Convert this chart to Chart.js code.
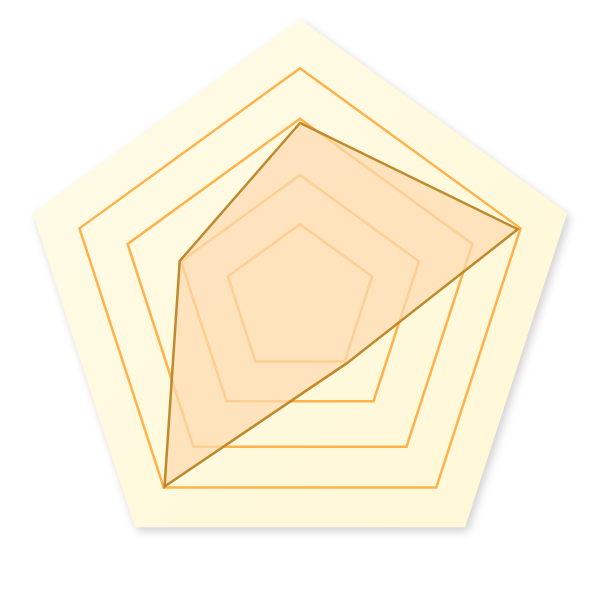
<!DOCTYPE html>
<html lang="en">
<head>
  <meta charset="UTF-8">
  <title>Radar</title>
  <script src="https://cdn.jsdelivr.net/npm/chart.js"></script>
  <style>
    html, body { margin: 0; padding: 0; background: #fff; }
    #wrap { width: 600px; height: 600px; }
  </style>
</head>
<body>
  <div id="wrap"><canvas id="radarChart" width="600" height="600"></canvas></div>
  <script>
    // data
    const categories = ['A', 'B', 'C', 'D', 'E'];
    const seriesValues = [63, 81.5, 28, 82, 45];
    const tickValues = [0, 27, 44.5, 64.5, 82.5];
    const scaleMin = 0;
    const scaleMax = 100;

    // yellow pentagon behind the grid, with a soft shadow
    const backPlate = {
      id: 'backPlate',
      beforeDraw(chart) {
        const scale = chart.scales.r;
        const ctx = chart.ctx;
        ctx.save();
        ctx.beginPath();
        for (let i = 0; i < categories.length; i++) {
          const p = scale.getPointPosition(i, scale.drawingArea);
          if (i === 0) ctx.moveTo(p.x, p.y); else ctx.lineTo(p.x, p.y);
        }
        ctx.closePath();
        const g = ctx.createLinearGradient(scale.xCenter - scale.drawingArea, scale.yCenter - scale.drawingArea,
                                           scale.xCenter + scale.drawingArea, scale.yCenter + scale.drawingArea);
        g.addColorStop(0, '#fffbe8');
        g.addColorStop(1, '#fff7d4');
        ctx.fillStyle = g;
        ctx.shadowColor = 'rgba(0, 0, 0, 0.18)';
        ctx.shadowBlur = 8;
        ctx.shadowOffsetX = 3;
        ctx.shadowOffsetY = 4;
        ctx.fill();
        ctx.restore();
      }
    };

    const ctx = document.getElementById('radarChart').getContext('2d');
    const radarChart = new Chart(ctx, {
      type: 'radar',
      data: {
        labels: categories,
        datasets: [{
          label: 'Serie',
          data: seriesValues,
          borderColor: '#bf8a2c',
          borderWidth: 2.5,
          backgroundColor: 'rgba(254, 218, 176, 0.72)',
          fill: true,
          pointRadius: 0,
          pointHoverRadius: 0,
          tension: 0
        }]
      },
      options: {
        responsive: false,
        animation: false,
        layout: { padding: 19 },
        plugins: {
          legend: { display: false },
          tooltip: { enabled: false }
        },
        scales: {
          r: {
            min: scaleMin,
            max: scaleMax,
            afterBuildTicks: (scale) => {
              scale.ticks = tickValues.map(v => ({ value: v }));
            },
            ticks: { display: false },
            pointLabels: { display: false },
            angleLines: { display: false },
            grid: {
              circular: false,
              color: '#ffb24a',
              lineWidth: 2.5
            }
          }
        }
      },
      plugins: [backPlate]
    });
  </script>
</body>
</html>
